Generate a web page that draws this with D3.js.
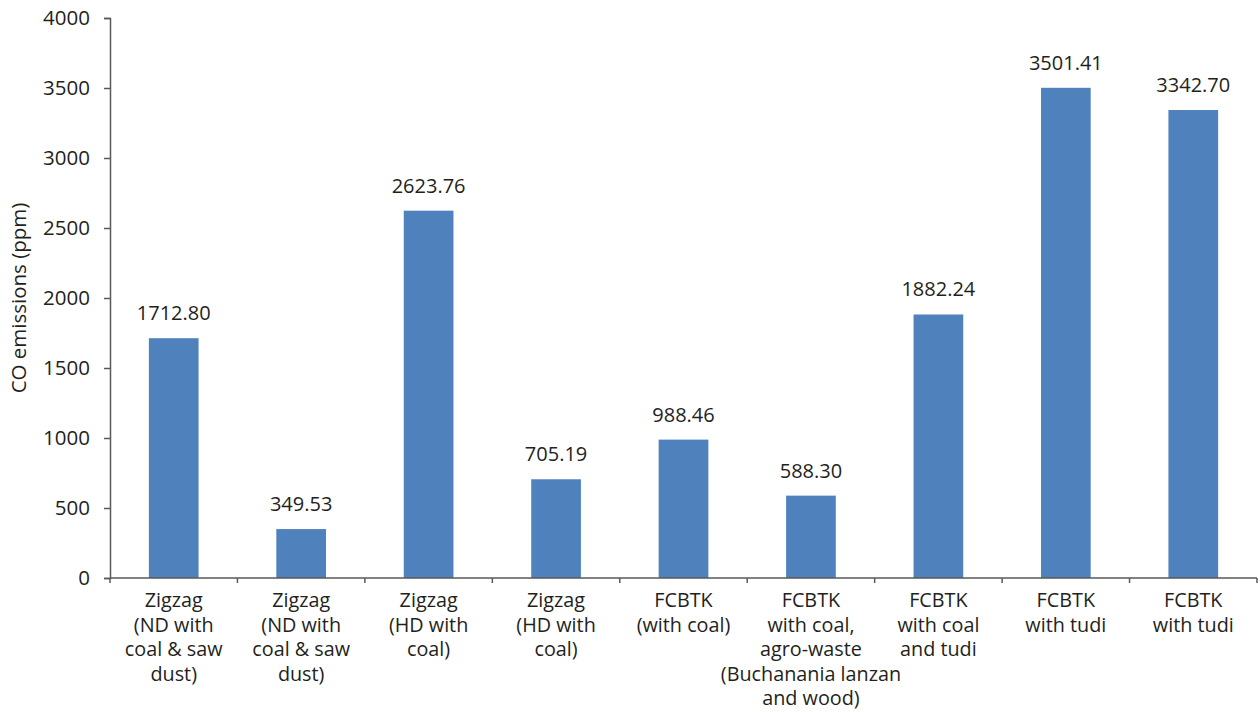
<!DOCTYPE html>
<html>
<head>
<meta charset="utf-8">
<script src="https://cdn.jsdelivr.net/npm/d3@7"></script>
<style>
  html, body { margin: 0; padding: 0; background: #fff; }
  svg { display: block; font-family: "Open Sans", "Noto Sans", sans-serif; }
</style>
</head>
<body>
<svg id="chart" width="1260" height="712"></svg>
<script>
// Category labels, one entry per line of the wrapped axis text
const categories = [
  ["Zigzag", "(ND with", "coal & saw", "dust)"],
  ["Zigzag", "(ND with", "coal & saw", "dust)"],
  ["Zigzag", "(HD with", "coal)"],
  ["Zigzag", "(HD with", "coal)"],
  ["FCBTK", "(with coal)"],
  ["FCBTK", "with coal,", "agro-waste", "(Buchanania lanzan", "and wood)"],
  ["FCBTK", "with coal", "and tudi"],
  ["FCBTK", "with tudi"],
  ["FCBTK", "with tudi"]
];
const coValues = [1712.80, 349.53, 2623.76, 705.19, 988.46, 588.30, 1882.24, 3501.41, 3342.70];
const yTicks = [0, 500, 1000, 1500, 2000, 2500, 3000, 3500, 4000];
const yTitle = "CO emissions (ppm)";

const svg = d3.select("#chart");
const margin = { left: 110, right: 3, top: 18, bottom: 134 };
const W = 1260, H = 712;
const textColor = "#231f20";
const axisColor = "#595959";

const ids = categories.map((_, i) => i);
const x = d3.scaleBand().domain(ids).range([margin.left, W - margin.right])
  .paddingInner(0.61).paddingOuter(0.305);
const y = d3.scaleLinear().domain([0, 4000]).range([H - margin.bottom, margin.top]);

// Bars
svg.append("g").selectAll("rect").data(coValues).join("rect")
  .attr("x", (d, i) => x(i))
  .attr("width", x.bandwidth())
  .attr("y", d => y(d))
  .attr("height", d => y(0) - y(d))
  .attr("fill", "#4f81bd");

// Value labels above each bar
svg.append("g").selectAll("text").data(coValues).join("text")
  .attr("x", (d, i) => x(i) + x.bandwidth() / 2)
  .attr("y", d => y(d) - 18)
  .attr("text-anchor", "middle")
  .attr("font-size", 20)
  .attr("fill", textColor)
  .text(d => d.toFixed(2));

// Y axis
const yAxis = svg.append("g")
  .attr("transform", `translate(${margin.left},0)`)
  .call(d3.axisLeft(y).tickValues(yTicks).tickSize(6).tickPadding(14).tickFormat(d3.format("d")));
yAxis.select(".domain").attr("stroke", axisColor).attr("stroke-width", 1.5);
yAxis.selectAll(".tick line").attr("stroke", axisColor).attr("stroke-width", 1.5);
yAxis.selectAll(".tick text").attr("font-size", 20.5).attr("fill", textColor)
  .attr("font-family", "'Open Sans', 'Noto Sans', sans-serif");

// X axis: ticks sit on the category boundaries
const boundaries = ids.map(i => x(i) - x.step() * x.paddingInner() / 2).concat([W - margin.right]);
const xAxisG = svg.append("g");
xAxisG.append("line")
  .attr("x1", margin.left).attr("x2", W - margin.right)
  .attr("y1", y(0)).attr("y2", y(0))
  .attr("stroke", axisColor).attr("stroke-width", 1.5);
xAxisG.selectAll("line.tk").data(boundaries).join("line")
  .attr("class", "tk")
  .attr("x1", d => d).attr("x2", d => d)
  .attr("y1", y(0)).attr("y2", y(0) + 5)
  .attr("stroke", axisColor).attr("stroke-width", 1.5);

// Wrapped category labels
const lab = xAxisG.selectAll("text.cat").data(categories).join("text")
  .attr("class", "cat")
  .attr("text-anchor", "middle")
  .attr("font-size", 19.8)
  .attr("fill", textColor);
lab.each(function (lines, i) {
  d3.select(this).selectAll("tspan").data(lines).join("tspan")
    .attr("x", x(i) + x.bandwidth() / 2)
    .attr("y", (d, k) => y(0) + 29 + k * 24.6)
    .text(d => d);
});

// Y axis title
svg.append("text")
  .attr("transform", `translate(26,${(y(0) + y(4000)) / 2}) rotate(-90)`)
  .attr("text-anchor", "middle")
  .attr("font-size", 20.5)
  .attr("fill", textColor)
  .text(yTitle);
</script>
</body>
</html>
